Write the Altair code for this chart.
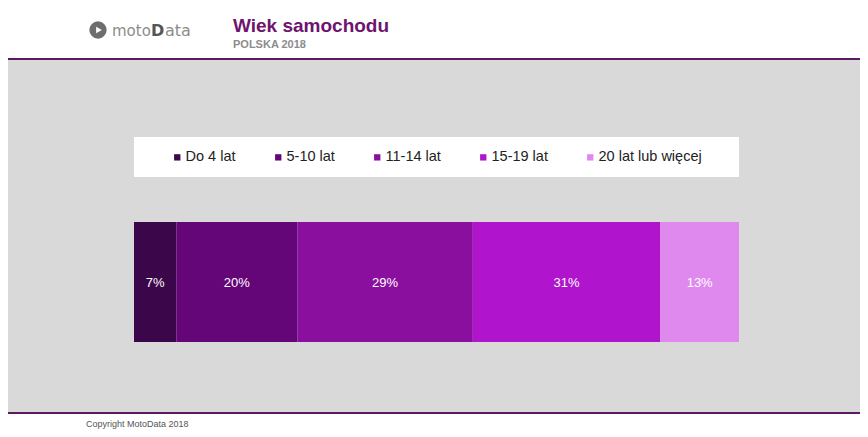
import altair as alt
import pandas as pd

categories = ["Do 4 lat", "5-10 lat", "11-14 lat", "15-19 lat", "20 lat lub więcej"]
shares = [7, 20, 29, 31, 13]
colors = ["#3b064a", "#640677", "#8a0f9f", "#b015cd", "#df89ef"]
labels = ["7%", "20%", "29%", "31%", "13%"]

title_text = "Wiek samochodu"
subtitle_text = "POLSKA 2018"
footer_text = "Copyright MotoData 2018"

df = pd.DataFrame({"kat": categories, "share": shares, "label": labels})
df["end"] = df["share"].cumsum()
df["start"] = df["end"] - df["share"]
df["mid"] = (df["start"] + df["end"]) / 2

box = pd.DataFrame({"start": [0], "end": [int(df["share"].sum())]})

W, H = 852, 353
xscale = alt.Scale(domain=[-126 / 6.05, 726 / 6.05], nice=False, zero=False)
base_x = dict(scale=xscale, axis=None)

background = alt.Chart(box).mark_rect(color="#d9d9d9").encode(
    x=alt.value(0), x2=alt.value(W), y=alt.value(0), y2=alt.value(H)
)

legend_box = alt.Chart(box).mark_rect(color="white").encode(
    x=alt.X("start:Q", **base_x), x2="end:Q",
    y=alt.value(77), y2=alt.value(117),
)

bars = alt.Chart(df).mark_rect().encode(
    x=alt.X("start:Q", **base_x), x2="end:Q",
    y=alt.value(162), y2=alt.value(282),
    color=alt.Color(
        "kat:N",
        scale=alt.Scale(domain=categories, range=colors),
        legend=alt.Legend(
            title=None, orient="none", legendX=162, legendY=90,
            direction="horizontal", columns=5, columnPadding=35,
            symbolType="square", symbolSize=40, symbolStrokeWidth=0,
            labelFontSize=14.5, labelColor="#222222", labelFont="Liberation Sans",
            labelOffset=1, padding=0,
        ),
    ),
)

bar_labels = alt.Chart(df).mark_text(
    color="white", fontSize=13, font="Liberation Sans", baseline="middle", align="center"
).encode(
    x=alt.X("mid:Q", **base_x), y=alt.value(223), text="label:N"
)

top_line = alt.Chart(box).mark_rule(color="#5e1a60", strokeWidth=2).encode(
    x=alt.value(0), x2=alt.value(W), y=alt.value(-1)
)
bottom_line = alt.Chart(box).mark_rule(color="#5e1a60", strokeWidth=2).encode(
    x=alt.value(0), x2=alt.value(W), y=alt.value(H)
)

title = alt.Chart(box).mark_text(
    text=title_text, align="left", baseline="alphabetic", fontSize=19,
    font="Liberation Sans", fontWeight="bold", color="#6e136e"
).encode(x=alt.value(225), y=alt.value(-28))
subtitle = alt.Chart(box).mark_text(
    text=subtitle_text, align="left", baseline="alphabetic", fontSize=11,
    font="Liberation Sans", fontWeight="bold", color="#8c8c8c"
).encode(x=alt.value(225), y=alt.value(-12))

logo_circle = alt.Chart(box).mark_point(
    shape="circle", filled=True, color="#6e6e6e", size=300, opacity=1
).encode(x=alt.value(90), y=alt.value(-30))
logo_inner = alt.Chart(box).mark_point(
    shape="triangle-right", filled=True, color="white", size=45, opacity=1
).encode(x=alt.value(91), y=alt.value(-30))
logo_moto = alt.Chart(box).mark_text(
    text="moto", align="left", baseline="middle", fontSize=15, color="#8c8c8c",
    font="DejaVu Sans", fontWeight="normal"
).encode(x=alt.value(104), y=alt.value(-29))
logo_d = alt.Chart(box).mark_text(
    text="D", align="left", baseline="middle", fontSize=16, color="#555555",
    font="DejaVu Sans", fontWeight="bold"
).encode(x=alt.value(143), y=alt.value(-29))
logo_ata = alt.Chart(box).mark_text(
    text="ata", align="left", baseline="middle", fontSize=16, color="#8c8c8c",
    font="DejaVu Sans", fontWeight="normal"
).encode(x=alt.value(157), y=alt.value(-29))

footer = alt.Chart(box).mark_text(
    text=footer_text, align="left", baseline="middle", fontSize=9, color="#555555",
    font="Liberation Sans"
).encode(x=alt.value(78), y=alt.value(364))

chart = alt.layer(
    background, legend_box, bars, bar_labels, top_line, bottom_line,
    title, subtitle, logo_circle, logo_inner, logo_moto, logo_d, logo_ata, footer,
).properties(
    width=W, height=H,
    autosize=alt.AutoSizeParams(type="none"),
    padding={"left": 0, "right": 0, "top": 52, "bottom": 16},
).configure_view(
    stroke=None
).configure(background="white")

chart.save("out.html", embed_options={"renderer": "svg", "actions": False})
